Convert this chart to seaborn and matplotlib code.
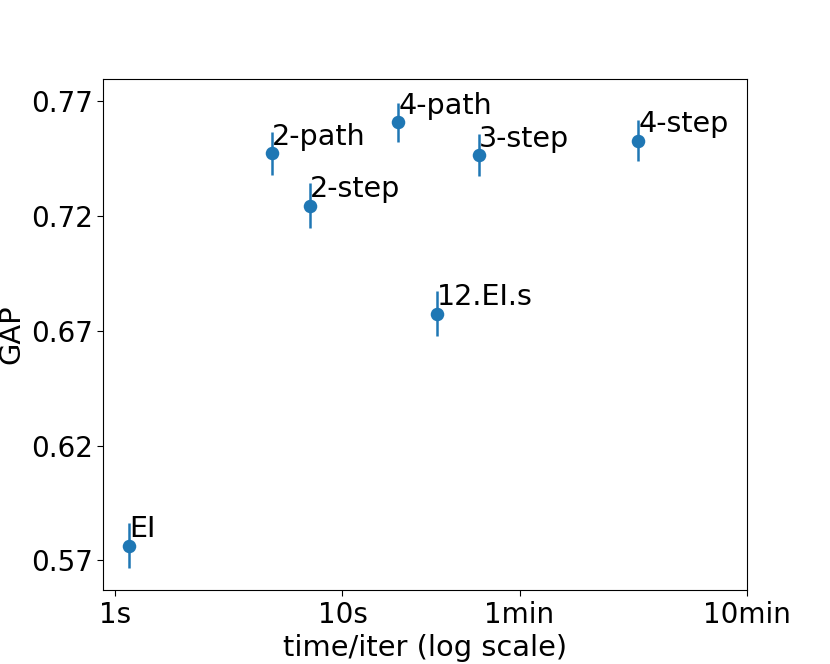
import matplotlib
matplotlib.use("Agg")
import matplotlib.pyplot as plt
import pandas as pd
import seaborn as sns

# time per iteration (seconds), GAP and error half-width per method
methods = ["EI", "2-path", "2-step", "4-path", "12.EI.s", "3-step", "4-step"]
time_s = [1.156, 4.9, 7.21, 17.6, 25.9, 39.9, 200.0]
gap = [0.5765, 0.7472, 0.7245, 0.7607, 0.6775, 0.7465, 0.7527]
gap_err = [0.0097, 0.0093, 0.0098, 0.0086, 0.0099, 0.0093, 0.0089]

tick_vals = [1, 10, 60, 600]
tick_labels = ["1s", "10s", "1min", "10min"]
gap_ticks = [0.57, 0.62, 0.67, 0.72, 0.77]

df = pd.DataFrame({"method": methods, "time": time_s, "gap": gap, "err": gap_err})

sns.set_style("ticks", {"axes.edgecolor": "black", "xtick.color": "black",
                        "ytick.color": "black", "text.color": "black",
                        "axes.labelcolor": "black"})
plt.rcParams["font.family"] = ["DejaVu Sans"]
plt.rcParams["font.size"] = 20
plt.rcParams["text.color"] = "black"
plt.rcParams["axes.labelcolor"] = "black"

fig, ax = plt.subplots(figsize=(8.3, 6.64), dpi=100)
blue = "#1f77b4"
ax.errorbar(df["time"], df["gap"], yerr=df["err"], fmt="none", ecolor=blue,
            elinewidth=1.8, zorder=2)
sns.scatterplot(data=df, x="time", y="gap", ax=ax, color=blue, s=95,
                edgecolor=blue, linewidth=0, zorder=3)

for _, r in df.iterrows():
    ax.annotate(r["method"], (r["time"], r["gap"]), xytext=(0, 6),
                textcoords="offset points", fontsize=20.6, color="black")

ax.set_xscale("log")
ax.set_xlim(0.885, 600)
ax.set_ylim(0.557, 0.7796)
ax.set_xticks(tick_vals)
ax.set_xticklabels(tick_labels)
ax.minorticks_off()
ax.set_yticks(gap_ticks)
ax.set_yticklabels([f"{v:.2f}" for v in gap_ticks])
ax.tick_params(labelsize=20, length=4)
ax.set_xlabel("time/iter (log scale)", fontsize=20.8, color="black")
ax.set_ylabel("GAP", fontsize=20.8, color="black")
for s in ax.spines.values():
    s.set_visible(True)
    s.set_linewidth(0.8)

fig.subplots_adjust(left=0.124, right=0.9, bottom=0.111, top=0.881)
fig.savefig("out.png", dpi=100)
